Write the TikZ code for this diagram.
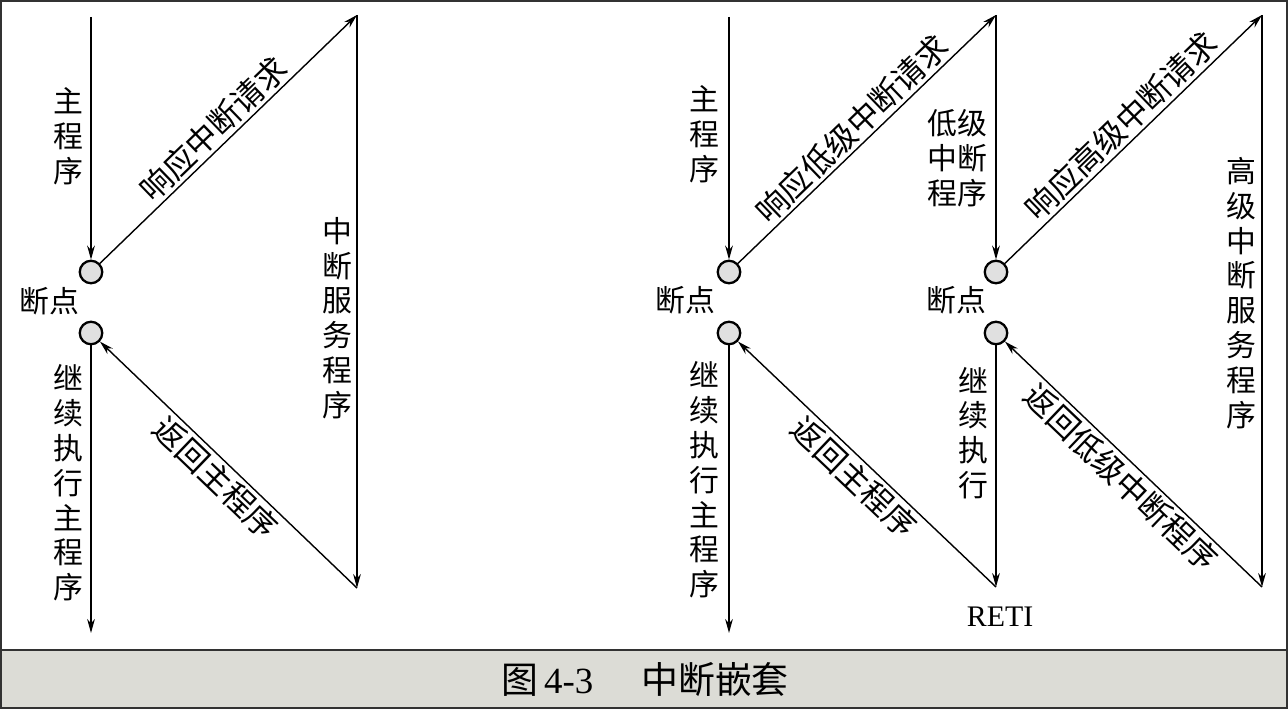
\documentclass[tikz,border=0pt]{standalone}
\usepackage{fontspec}
\setmainfont{Liberation Serif}
\newfontfamily\cjk{Noto Sans CJK SC}
\usetikzlibrary{positioning,arrows.meta}
\definecolor{capgray}{RGB}{220,220,214}
\definecolor{bpgray}{RGB}{224,224,224}
\definecolor{framecol}{RGB}{50,50,50}

\begin{document}
\begin{tikzpicture}[x=0.02cm, y=-0.02cm,
  arr/.style={line width=0.8pt, -{Stealth[length=8pt, width=4.4pt]}},
  bp/.style={circle, draw, line width=1.3pt, fill=bpgray, minimum size=4.5mm, inner sep=0pt},
  vlab/.style={font=\cjk\fontsize{17}{19.8}\selectfont, align=center, inner sep=0pt},
  slab/.style={font=\cjk\fontsize{18}{20}\selectfont, sloped, inner sep=1.5pt}]
\useasboundingbox (0,0) rectangle (1288,709);
\draw[framecol, line width=1.2pt] (1,1) rectangle (1287,708);
\filldraw[framecol, fill=capgray, line width=1.2pt] (1,650) rectangle (1287,708);
\node[font=\cjk\fontsize{21}{24}\selectfont] (cap) at (645,680) {图\,{\rmfamily 4-3}\hspace{1.3em}中断嵌套};
% single interrupt
\coordinate (Ltop) at (91,17);
\node[bp] (La) at (91,272) {};
\node[bp] (Lb) at (91,333) {};
\coordinate (Lend) at (91,633);
\coordinate (Ls) at (357,15);
\coordinate (Le) at (357,588);
\node[vlab] (Lmain) at (68,136) {主\\程\\序};
\node[vlab] (Lbrk) at (49,301) {断点};
\node[vlab] (Lcont) at (68,483) {继\\续\\执\\行\\主\\程\\序};
\node[vlab] (Lsrv) at (337,318) {中\\断\\服\\务\\程\\序};
\draw[arr] (Ltop) -- (La); \draw[arr] (Lb) -- (Lend);
\draw[arr] (La) -- node[slab, above, pos=0.49] {响应中断请求} (Ls);
\draw[arr] (Ls) -- (Le);
\draw[arr] (Le) -- node[slab, below, pos=0.5] {返回主程序} (Lb);
% nested interrupts
\coordinate (Rtop) at (729,17);
\node[bp] (Ra) at (729,272) {};
\node[bp] (Rb) at (729,333) {};
\coordinate (Rend) at (729,633);
\coordinate (Mtop) at (996,15);
\node[bp] (Ma) at (996,272) {};
\node[bp] (Mb) at (996,333) {};
\coordinate (Mend) at (996,587);
\coordinate (Htop) at (1262,15);
\coordinate (Hend) at (1262,587);
\node[vlab] (Rmain) at (704,134) {主\\程\\序};
\node[vlab] (Rbrk) at (685,300) {断点};
\node[vlab] (Rcont) at (704,480) {继\\续\\执\\行\\主\\程\\序};
\node[vlab] (Mlow) at (957,158) {低级\\中断\\程序};
\node[vlab] (Mbrk) at (956,300) {断点};
\node[vlab] (Mcont) at (973,433) {继\\续\\执\\行};
\node[vlab] (Hsrv) at (1241,293) {高\\级\\中\\断\\服\\务\\程\\序};
\node[font=\fontsize{17}{20}\selectfont, inner sep=0pt] (reti) at (1000,617) {RETI};
\draw[arr] (Rtop) -- (Ra); \draw[arr] (Rb) -- (Rend);
\draw[arr] (Ra) -- node[slab, above, pos=0.49] {响应低级中断请求} (Mtop);
\draw[arr] (Mtop) -- (Ma); \draw[arr] (Mb) -- (Mend);
\draw[arr] (Ma) -- node[slab, above, pos=0.5] {响应高级中断请求} (Htop);
\draw[arr] (Htop) -- (Hend);
\draw[arr] (Hend) -- node[slab, below, pos=0.5] {返回低级中断程序} (Mb);
\draw[arr] (Mend) -- node[slab, below, pos=0.5] {返回主程序} (Rb);
\end{tikzpicture}
\end{document}
